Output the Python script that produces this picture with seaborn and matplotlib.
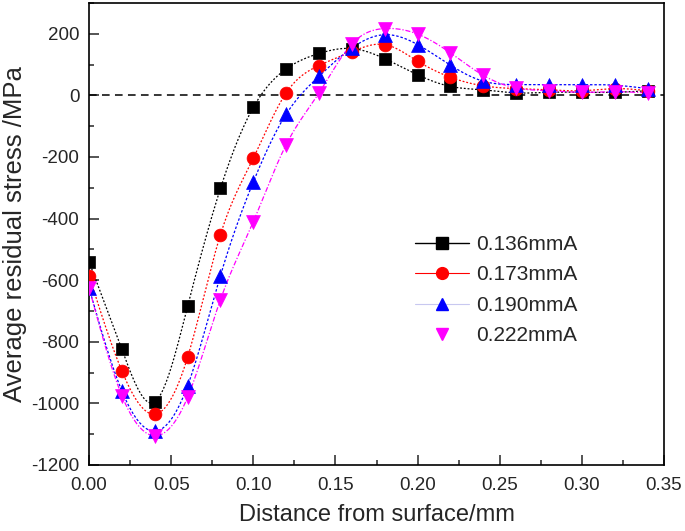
import numpy as np
import pandas as pd
import seaborn as sns
import matplotlib
matplotlib.use("Agg")
import matplotlib.pyplot as plt
from matplotlib.lines import Line2D
from matplotlib.ticker import MultipleLocator

# Data
depth = [0.00, 0.02, 0.04, 0.06, 0.08, 0.10, 0.12, 0.14, 0.16,
         0.18, 0.20, 0.22, 0.24, 0.26, 0.28, 0.30, 0.32, 0.34]
s_136 = [-540, -825, -995, -685, -302, -39, 86, 136, 152,
         119, 67, 29, 18, 8, 10, 10, 10, 15]
s_173 = [-585, -895, -1035, -850, -452, -204, 8, 97, 142,
         165, 111, 59, 31, 22, 18, 15, 22, 15]
s_190 = [-625, -960, -1090, -943, -585, -281, -61, 62, 154,
         197, 165, 98, 46, 35, 35, 35, 33, 22]
s_222 = [-625, -975, -1105, -980, -663, -410, -160, 8, 167,
         217, 199, 138, 65, 24, 15, 10, 12, 8]
labels = ["0.136mmA", "0.173mmA", "0.190mmA", "0.222mmA"]
series = [s_136, s_173, s_190, s_222]

colors = ["black", "red", "blue", "magenta"]
markers = ["s", "o", "^", "v"]
msizes = [70, 85, 100, 100]
dashes = [(0, (1.5, 1.5)), (0, (1.5, 1.5)), (0, (2, 1.5)), (0, (4, 1.5, 1, 1.5))]


def natural_spline(x, y, xs):
    # smooth connecting curve through the measured points
    x = np.asarray(x, float)
    y = np.asarray(y, float)
    n = len(x)
    h = np.diff(x)
    A = np.zeros((n, n))
    b = np.zeros(n)
    A[0, 0] = A[-1, -1] = 1
    for i in range(1, n - 1):
        A[i, i - 1] = h[i - 1]
        A[i, i] = 2 * (h[i - 1] + h[i])
        A[i, i + 1] = h[i]
        b[i] = 6 * ((y[i + 1] - y[i]) / h[i] - (y[i] - y[i - 1]) / h[i - 1])
    M = np.linalg.solve(A, b)
    idx = np.clip(np.searchsorted(x, xs) - 1, 0, n - 2)
    hi = h[idx]
    a = x[idx + 1] - xs
    c = xs - x[idx]
    return (M[idx] * a ** 3 / (6 * hi) + M[idx + 1] * c ** 3 / (6 * hi)
            + (y[idx] / hi - M[idx] * hi / 6) * a
            + (y[idx + 1] / hi - M[idx + 1] * hi / 6) * c)


sns.set_style("ticks")
plt.rcParams["font.family"] = ["Liberation Sans", "DejaVu Sans"]
plt.rcParams["axes.unicode_minus"] = False

fig, ax = plt.subplots(figsize=(6.85, 5.31), dpi=100)
fig.subplots_adjust(left=0.130, right=0.9693, bottom=0.1243, top=0.9944)

ax.axhline(0, color="black", lw=1.1, ls=(0, (5, 3.5)), zorder=1)

xs = np.linspace(depth[0], depth[-1], 400)
for vals, lab, col, ds in zip(series, labels, colors, dashes):
    smooth = pd.DataFrame({"x": xs, "y": natural_spline(depth, vals, xs)})
    sns.lineplot(data=smooth, x="x", y="y", color=col, lw=0.9,
                 linestyle=ds, ax=ax, zorder=2)

for vals, lab, col, mk, ms in zip(series, labels, colors, markers, msizes):
    pts = pd.DataFrame({"x": depth, "y": vals})
    sns.scatterplot(data=pts, x="x", y="y", color=col, marker=mk, s=ms,
                    edgecolor=col, linewidth=0.5, ax=ax, zorder=3)

ax.set_xlim(0, 0.35)
ax.xaxis.set_major_locator(MultipleLocator(0.05))
ax.xaxis.set_minor_locator(MultipleLocator(0.025))
ax.yaxis.set_minor_locator(MultipleLocator(100))
ax.set_yticks(np.arange(-1200, 201, 200))
ax.set_ylim(-1200, 300)
ax.xaxis.set_major_formatter(plt.FormatStrFormatter("%.2f"))

ax.tick_params(which="both", direction="in", width=1.1, labelsize=13.5,
               top=False, right=False)
ax.tick_params(which="major", length=7)
ax.tick_params(which="minor", length=3.5)
ax.tick_params(axis="x", pad=9)
ax.tick_params(axis="y", pad=7)
for sp in ax.spines.values():
    sp.set_visible(True)
    sp.set_linewidth(1.2)
    sp.set_color("black")

ax.set_xlabel("Distance from surface/mm", fontsize=17)
ax.set_ylabel("Average residual stress /MPa", fontsize=18.5)
ax.xaxis.set_label_coords(0.5, -0.085)
ax.yaxis.set_label_coords(-0.108, 0.5)

handles = [
    Line2D([], [], color="black", lw=1, marker="s", ms=8),
    Line2D([], [], color="red", lw=0.8, marker="o", ms=8.5),
    Line2D([], [], color="#c8c8f0", lw=0.8, marker="^", ms=9,
           markerfacecolor="blue", markeredgecolor="blue"),
    Line2D([], [], color="none", marker="v", ms=9,
           markerfacecolor="magenta", markeredgecolor="magenta"),
]
ax.legend(handles, labels, loc="upper left", bbox_to_anchor=(0.567, 0.498),
          frameon=False, fontsize=15, handlelength=2.6, handletextpad=0.35,
          labelspacing=0.55, borderpad=0, borderaxespad=0)

fig.savefig("out.png", dpi=100)
